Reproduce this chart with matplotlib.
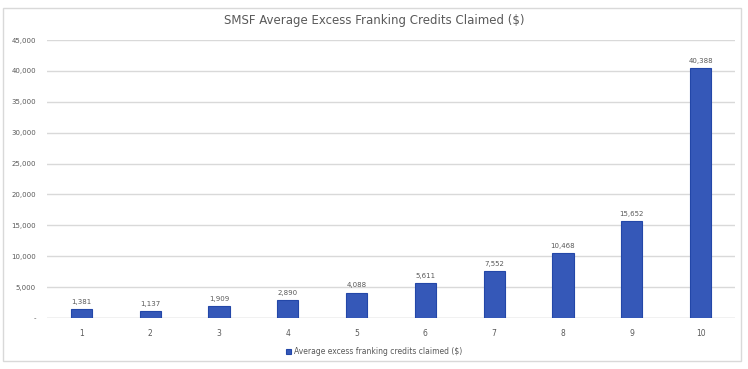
import matplotlib.pyplot as plt
from matplotlib.patches import Rectangle

deciles = ["1", "2", "3", "4", "5", "6", "7", "8", "9", "10"]
credits = [1381, 1137, 1909, 2890, 4088, 5611, 7552, 10468, 15652, 40388]
yticks = [0, 5000, 10000, 15000, 20000, 25000, 30000, 35000, 40000, 45000]

fig = plt.figure(figsize=(7.48, 3.69), dpi=100)
ax = fig.add_axes([47 / 748, 51 / 369, 688 / 748, 278 / 369])

x = range(len(deciles))
bars = ax.bar(x, credits, width=0.31, color="#3558b8", edgecolor="#2347a8",
              linewidth=0.8, label="Average excess franking credits claimed ($)", zorder=3)

for xi, v in zip(x, credits):
    ax.text(xi, v + 700, f"{v:,}", ha="center", va="bottom", fontsize=5, color="#595959")

ax.set_xlim(-0.5, 9.5)
ax.set_ylim(0, 45000)
ax.set_xticks(list(x))
ax.set_xticklabels(deciles, fontsize=5.5, color="#595959")
ax.set_yticks(yticks)
ax.set_yticklabels(["-"] + [f"{t:,}" for t in yticks[1:]], fontsize=5, color="#595959")
ax.tick_params(length=0, pad=8)
ax.grid(axis="y", color="#d9d9d9", linewidth=1, zorder=0)
for s in ax.spines.values():
    s.set_visible(False)
ax.axhline(0, color="#d9d9d9", linewidth=1, zorder=2)

fig.text(0.5, 0.945, "SMSF Average Excess Franking Credits Claimed ($)",
         ha="center", va="center", fontsize=8.5, color="#595959")

fig.legend(handles=[bars], loc="center", bbox_to_anchor=(0.5, 0.047), frameon=False,
           fontsize=5.5, handlelength=0.6, handleheight=0.6, handletextpad=0.4,
           labelcolor="#595959")

fig.patches.append(Rectangle((3 / 748, 8 / 369), 738 / 748, 353 / 369,
                             transform=fig.transFigure, fill=False,
                             edgecolor="#d9d9d9", linewidth=1))

fig.savefig("out.png", dpi=100)
